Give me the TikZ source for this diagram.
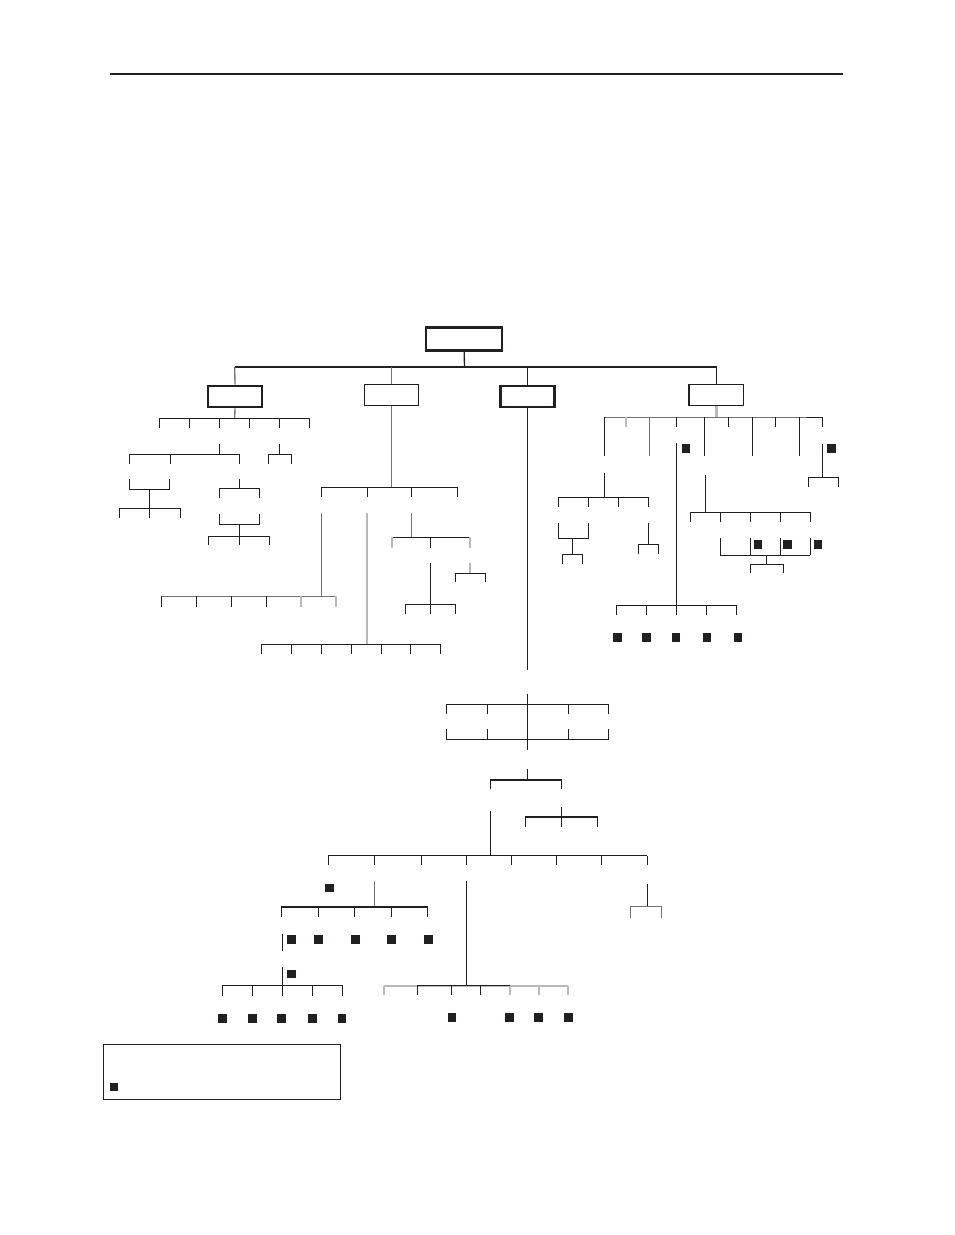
\documentclass[tikz,border=0pt]{standalone}
\definecolor{ink}{RGB}{35,31,32}
\definecolor{midgray}{RGB}{115,115,115}
\definecolor{ltgray}{RGB}{185,185,185}
\tikzset{every picture/.style={line width=0.75pt}}
\tikzset{
  link/.style={draw=ink,line width=1pt},
  glink/.style={draw=midgray,line width=1pt},
  lglink/.style={draw=ltgray,line width=1.3pt},
  bx/.style={draw=ink,line width=1pt,inner sep=0pt,minimum width=40.5pt,minimum height=15.8pt},
  bxthick/.style={bx,line width=1.9pt},
  sq/.style={fill=ink,inner sep=0pt,minimum size=6.4pt}
}
\begin{document}
\begin{tikzpicture}[x=0.75pt,y=0.75pt,yscale=-1,xscale=1]
\useasboundingbox (0,0) rectangle (954,1235);
% top rule
\draw[link] (110,74) -- (843,74);
% boxes
\node[bxthick,minimum width=57pt,minimum height=17pt] (root) at (464.2,339) {};
\node[bxthick] (boxA) at (235,396.5) {};
\node[bx] (boxB) at (391.3,394.8) {};
\node[bxthick] (boxC) at (527.3,396.5) {};
\node[bx] (boxD) at (716.7,394.8) {};
\draw[ink,line width=1.8pt] (boxD.south west) -- (boxD.north west);
% level 1
\draw[link] (root.south) -- (464.5,367);
\draw[link] (234.7,367) -- (717,367);
\draw[glink] (234.7,367) -- (boxA.north);
\draw[glink] (391.3,367) -- (boxB.north);
\draw[link] (527.3,367) -- (boxC.north);
\draw[link] (716.7,367) -- (boxD.north);
% box A
\draw[glink] (boxA.south) -- (234.7,418.3);
\draw[link] (159.3,418.3) -- (309.3,418.3);
\foreach \x in {159.3,189.3,219.3,249.3,279.3,309.3} \draw[link] (\x,418.3) -- (\x,428.3);
\draw[link] (219.3,444) -- (219.3,454.3) (129.3,454.3) -- (239.3,454.3);
\foreach \x in {129.3,170.3,239.3} \draw[link] (\x,454.3) -- (\x,463.7);
\draw[link] (279.3,444) -- (279.3,454.3) (268.3,463.7) |- (291.3,454.3) -- (291.3,463.7);
\draw[link] (129.3,479.3) |- (169.3,489.3) -- (169.3,479.3);
\draw[link] (149.3,489.3) -- (149.3,508.3) (119.3,508.3) -- (180.3,508.3);
\foreach \x in {119.3,149.3,180.3} \draw[link] (\x,508.3) -- (\x,518.3);
\draw[link] (239.3,479.3) -- (239.3,488.7) (219.3,498.3) |- (259.3,488.7) -- (259.3,498.3);
\draw[link] (219.3,514.3) |- (259.3,524.3) -- (259.3,514.3);
\draw[link] (239.3,524.3) -- (239.3,536.3) (208.3,536.3) -- (269.3,536.3);
\foreach \x in {208.3,239.3,269.3} \draw[link] (\x,536.3) -- (\x,545.3);
% box B
\draw[glink] (boxB.south) -- (391.3,487.3);
\draw[link] (321.3,487.3) -- (457.3,487.3);
\foreach \x in {321.3,367.3,411.7,457.3} \draw[link] (\x,487.3) -- (\x,497.3);
\draw[glink] (321.3,512.7) -- (321.3,596.3);
\draw[glink] (161.3,596.3) -- (336,596.3);
\foreach \x in {161.3,196.3,231.3,266.3} \draw[link] (\x,596.3) -- (\x,606.7);
\foreach \x in {301,336} \draw[lglink] (\x,596.3) -- (\x,606.7);
\draw[lglink] (366.7,512.7) -- (366.7,644.3);
\draw[link] (261.3,644.3) -- (440.3,644.3);
\foreach \x in {261.3,291.3,321.3,351.3,381.3,410.3,440.3} \draw[link] (\x,644.3) -- (\x,654.3);
\draw[glink] (411.7,512.7) -- (411.7,537.3);
\draw[link] (392,537.3) -- (470,537.3) (430.7,537.3) -- (430.7,547.7);
\foreach \x in {392,470} \draw[lglink] (\x,537.3) -- (\x,547.7);
\draw[link] (430.7,563.3) -- (430.7,614.3) (405.3,614.3) |- (455.3,604.3) -- (455.3,614.3);
\draw[lglink] (470,562.7) -- (470,573.3);
\draw[link] (455.7,582.3) |- (485.3,573.3) -- (485.3,582.3);
% box C
\draw[link] (boxC.south) -- (527.3,670);
\draw[link] (527.3,694) -- (527.3,749.7);
\draw[link] (446.3,704.3) -- (608.7,704.3) (446.3,739.3) -- (608.7,739.3);
\foreach \x in {446.3,487.7,568.3,608.7} \draw[link] (\x,704.3) -- (\x,713.7) (\x,729.3) -- (\x,739.3);
\draw[link] (527.3,769.3) -- (527.3,780) (490.3,789.3) |- (561.7,780) -- (561.7,789.3);
\draw[link] (561.7,807.3) -- (561.7,826.7) (525.3,826.7) |- (597.7,817) -- (597.7,826.7);
\draw[link] (490.3,811.3) -- (490.3,855.7) (328.3,855.7) -- (647.3,855.7);
\foreach \x in {328.3,374.3,421.3,466.3,511.7,556.7,601.3,647.3} \draw[link] (\x,855.7) -- (\x,865.3);
\node[sq] (qa) at (329.5,888) {};
\draw[glink] (374.3,881.3) -- (374.3,907);
\draw[link] (281.3,907) -- (427.7,907);
\foreach \x in {281.3,318.3,354.3,391.3,427.7} \draw[link] (\x,907) -- (\x,916.7);
\foreach \x [count=\i] in {291.3,318.3,355.3,391.3,428.3} \node[sq] (qb\i) at (\x,939.7) {};
\draw[link] (282.3,934) -- (282.3,951.3);
\draw[link] (282.3,966.7) -- (282.3,995.7) (222.3,985.7) -- (342.7,985.7);
\node[sq] (qc) at (291.3,974) {};
\foreach \x in {222.3,252.3,312.3,342.7} \draw[link] (\x,985.7) -- (\x,995.7);
\foreach \x [count=\i] in {222.3,252.3,281.3,312.7,342} \node[sq] (qd\i) at (\x,1018.3) {};
\draw[link] (466.3,881.3) -- (466.3,985.7);
\draw[lglink] (383.7,985.7) -- (568,985.7);
\draw[link] (417.3,985.7) -- (509.7,985.7);
\foreach \x in {417.3,451.3,480.3} \draw[link] (\x,985.7) -- (\x,995.3);
\foreach \x in {383.7,509.7,539.3,568} \draw[lglink] (\x,985.7) -- (\x,995.3);
\foreach \x [count=\i] in {452,509.7,538.7,568.3} \node[sq] (qe\i) at (\x,1017.3) {};
\draw[link] (647.3,884) -- (647.3,906.3);
\draw[glink] (630.7,918.3) |- (661.3,906.3) -- (661.3,918.3);
% box D
\draw[lglink,line width=2.2pt] (boxD.south) -- (716.7,417.3);
\draw[glink] (604.3,417.3) -- (822.7,417.3);
\draw[link] (806.7,417.3) -- (822.7,417.3);
\foreach \x in {604.3,704.3,752.3,799.3} \draw[link] (\x,417.3) -- (\x,456);
\draw[glink] (649.3,417.3) -- (649.3,456.3);
\foreach \x in {676.3,728.3,775.3,822.7} \draw[link] (\x,417.3) -- (\x,427.3);
\draw[lglink] (626,417.3) -- (626,427.3);
\draw[link] (604.3,473.3) -- (604.3,497.3) (558.3,497.3) -- (648.3,497.3);
\foreach \x in {558.3,588.3,618.3,648.3} \draw[link] (\x,497.3) -- (\x,507.3);
\draw[link] (558.3,523.3) |- (588.3,538.3) -- (588.3,523.3);
\draw[link] (572.3,538.3) -- (572.3,554.3) (562.3,564.3) |- (582.3,554.3) -- (582.3,564.3);
\draw[link] (648.3,523.3) -- (648.3,544.3) (638.3,554.3) |- (658.3,544.3) -- (658.3,554.3);
\draw[link] (676.3,443.3) -- (676.3,614.7) (616.3,605.3) -- (736.3,605.3);
\node[sq] (qf) at (686,448.7) {};
\foreach \x in {616.3,646.3,706.3,736.3} \draw[link] (\x,605.3) -- (\x,614.7);
\foreach \x [count=\i] in {617.3,646.3,676,707,738} \node[sq] (qg\i) at (\x,637.3) {};
\draw[link] (705.3,475.3) -- (705.3,512.3) (690.3,512.3) -- (810.3,512.3);
\foreach \x in {690.3,720.3,750.3,780.3,810.3} \draw[link] (\x,512.3) -- (\x,521.7);
\draw[link] (720.3,555.3) -- (810.3,555.3);
\foreach \x in {720.3,750.3,780.3,810.3} \draw[link] (\x,538.3) -- (\x,555.3);
\draw[link] (766.3,555.3) -- (766.3,564.3) (750.3,573.3) |- (783.3,564.3) -- (783.3,573.3);
\foreach \x [count=\i] in {758,787.3,818} \node[sq] (qh\i) at (\x,544.3) {};
\draw[link] (822.7,444.3) -- (822.7,477.3) (808.7,487.3) |- (838.3,477.3) -- (838.3,487.3);
\node[sq] (qi) at (831.3,448.7) {};
% legend
\draw[link] (103.3,1044.3) rectangle (340.7,1099.3);
\node[sq] (qkey) at (114,1087) {};
\end{tikzpicture}
\end{document}
